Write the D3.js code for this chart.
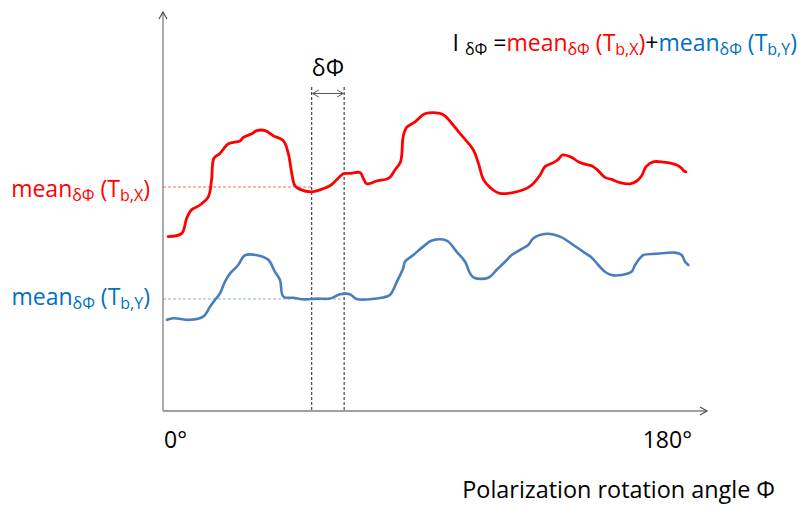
<!DOCTYPE html>
<html>
<head>
<meta charset="utf-8">
<script src="https://cdn.jsdelivr.net/npm/d3@7"></script>
<style>
  html, body { margin: 0; padding: 0; background: #fff; }
  svg { display: block; font-family: "Open Sans", Calibri, Lato, sans-serif; }
</style>
</head>
<body>
<svg id="chart" width="801" height="506"></svg>
<script>
// Polarization rotation angle (degrees) and mean transmitted intensity (arb. units)
const redAngle = [0.4, 5.1, 6.8, 8.5, 11.4, 14.3, 15.4, 16.2, 18.3, 21.2, 25.2, 26.4, 29.3, 31.0, 33.9, 36.7, 40.2, 41.9, 43.1, 44.2, 46.0, 50.0, 54.0, 56.3, 58.6, 60.9, 63.2, 66.7, 67.8, 69.0, 72.4, 76.8, 78.8, 80.7, 81.6, 82.8, 85.7, 89.1, 94.3, 96.0, 101.2, 105.8, 107.6, 109.3, 111.6, 115.0, 123.1, 126.0, 128.9, 130.6, 133.5, 135.2, 136.6, 139.8, 142.1, 144.4, 146.7, 148.5, 151.3, 153.6, 156.5, 160.0, 162.3, 164.0, 165.5, 168.0, 171.5, 176.1, 177.8, 178.6, 179.3];
const redValue = [43.6, 44.4, 48.2, 50.3, 51.5, 53.6, 57.8, 63.2, 64.4, 66.8, 67.5, 68.4, 69.3, 70.1, 70.1, 68.8, 67.6, 64.4, 59.4, 56.3, 55.4, 54.8, 55.6, 56.3, 57.8, 59.3, 59.4, 59.6, 58.2, 56.8, 57.5, 58.3, 60.3, 62.3, 68.6, 70.9, 72.3, 74.3, 74.4, 73.8, 69.4, 65.3, 61.9, 57.9, 55.9, 54.4, 55.3, 56.5, 59.0, 61.1, 62.1, 62.9, 64.0, 63.4, 62.3, 61.7, 61.3, 60.4, 58.4, 57.9, 57.1, 56.8, 57.5, 58.8, 61.1, 62.3, 62.2, 61.5, 60.7, 60.0, 59.8];

const blueAngle = [0, 2.2, 7.9, 12.5, 14.9, 16.6, 18.3, 20.0, 21.8, 24.6, 26.9, 31.5, 35.0, 37.3, 39.0, 40.2, 43.6, 47.7, 51.7, 56.3, 59.8, 63.2, 65.5, 74.7, 77.0, 79.4, 81.6, 82.2, 85.1, 88.5, 91.5, 96.6, 100.1, 103.0, 104.7, 106.1, 111.0, 113.9, 116.8, 119.1, 122.0, 124.8, 126.6, 131.2, 135.8, 140.4, 143.8, 146.7, 149.0, 151.3, 153.6, 157.1, 160.5, 161.7, 163.4, 164.6, 169.2, 175.5, 177.8, 179.0, 180.1];
const blueValue = [22.8, 23.2, 22.8, 23.6, 26.1, 27.8, 29.4, 32.3, 34.4, 36.5, 38.9, 38.9, 37.8, 34.8, 32.8, 28.6, 28.3, 27.9, 28.1, 28.1, 29.2, 29.2, 28.0, 28.4, 29.0, 32.3, 35.7, 37.3, 39.0, 41.1, 42.6, 42.6, 39.8, 37.3, 34.4, 33.3, 33.3, 35.3, 37.3, 39.0, 40.3, 41.5, 43.2, 44.3, 43.6, 41.5, 39.8, 38.4, 36.5, 34.8, 34.0, 34.0, 34.8, 36.5, 38.2, 39.0, 39.3, 39.6, 39.0, 37.3, 36.5];

// Averaging window δΦ and the mean levels marked at the left
const windowAngles = [50.0, 61.2];
const redMean = 56.0;
const blueMean = 28.0;
const redMeanEnd = 50.0;
const blueMeanEnd = 61.2;

const axisTickLabels = ["0°", "180°"];

const RED = "#ff0000";
const BLUE_LINE = "#4a7ebb";
const BLUE_TEXT = "#0070c0";
const AXIS = "#7f7f7f";

const svg = d3.select("#chart");
const x = d3.scaleLinear().domain([0, 180]).range([167, 688]);
const y = d3.scaleLinear().domain([0, 100]).range([411, 11]);

const x0 = 163, yAxis0 = y(0), yTop = 12, xRight = 707;

// axes with open arrowheads
const axes = svg.append("g").attr("stroke", AXIS).attr("stroke-width", 1.3).attr("fill", "none");
axes.append("line").attr("x1", x0).attr("y1", yAxis0).attr("x2", x0).attr("y2", yTop);
axes.append("path").attr("d", `M${x0 - 4},${yTop + 7} L${x0},${yTop} L${x0 + 4},${yTop + 7}`).attr("stroke", "#555");
axes.append("line").attr("x1", x0).attr("y1", yAxis0).attr("x2", xRight).attr("y2", yAxis0);
axes.append("path").attr("d", `M${xRight - 7},${yAxis0 - 4} L${xRight},${yAxis0} L${xRight - 7},${yAxis0 + 4}`).attr("stroke", "#555");

// mean level guides
svg.append("line")
  .attr("x1", x0).attr("x2", x(redMeanEnd))
  .attr("y1", y(redMean)).attr("y2", y(redMean))
  .attr("stroke", RED).attr("stroke-opacity", 0.6).attr("stroke-width", 1)
  .attr("stroke-dasharray", "3,2");
svg.append("line")
  .attr("x1", x0).attr("x2", x(blueMeanEnd))
  .attr("y1", y(blueMean)).attr("y2", y(blueMean))
  .attr("stroke", BLUE_LINE).attr("stroke-opacity", 0.6).attr("stroke-width", 1)
  .attr("stroke-dasharray", "3,2");

// window boundaries
svg.selectAll("line.win").data(windowAngles).join("line")
  .attr("class", "win")
  .attr("x1", d => x(d)).attr("x2", d => x(d))
  .attr("y1", 87).attr("y2", yAxis0)
  .attr("stroke", "#222").attr("stroke-width", 1)
  .attr("stroke-dasharray", "3,2");

// double-headed arrow spanning the window
const ay = 93.5, ax1 = x(windowAngles[0]) + 1, ax2 = x(windowAngles[1]) - 1;
const arr = svg.append("g").attr("stroke", "#555").attr("stroke-width", 1).attr("fill", "none");
arr.append("line").attr("x1", ax1).attr("x2", ax2).attr("y1", ay).attr("y2", ay);
arr.append("path").attr("d", `M${ax1 + 6},${ay - 3.5} L${ax1},${ay} L${ax1 + 6},${ay + 3.5}`);
arr.append("path").attr("d", `M${ax2 - 6},${ay - 3.5} L${ax2},${ay} L${ax2 - 6},${ay + 3.5}`);

svg.append("text")
  .attr("x", (x(windowAngles[0]) + x(windowAngles[1])) / 2).attr("y", 76)
  .attr("text-anchor", "middle").attr("font-size", 23).attr("fill", "#000")
  .text("δΦ");

// curves
const line = d3.line()
  .x(d => x(d[0])).y(d => y(d[1]))
  .curve(d3.curveCatmullRom.alpha(0.5));

svg.append("path")
  .datum(d3.zip(blueAngle, blueValue))
  .attr("d", line)
  .attr("fill", "none").attr("stroke", BLUE_LINE).attr("stroke-width", 2.6)
  .attr("stroke-linejoin", "round").attr("stroke-linecap", "round");

svg.append("path")
  .datum(d3.zip(redAngle, redValue))
  .attr("d", line)
  .attr("fill", "none").attr("stroke", RED).attr("stroke-width", 2.8)
  .attr("stroke-linejoin", "round").attr("stroke-linecap", "round");

// axis labels
svg.append("text").attr("x", x(0) - 3).attr("y", 448)
  .attr("font-size", 23).attr("fill", "#000").text(axisTickLabels[0]);
svg.append("text").attr("x", x(180) + 4).attr("y", 448)
  .attr("text-anchor", "end").attr("font-size", 23).attr("fill", "#000").text(axisTickLabels[1]);

svg.append("text").attr("x", 775).attr("y", 498)
  .attr("text-anchor", "end").attr("font-size", 23.4).attr("fill", "#000")
  .text("Polarization rotation angle Φ");

// "mean_δΦ (T_b,c)" label builder
function meanLabel(sel, channel, color, subSize) {
  sel.append("tspan").attr("fill", color).text("mean");
  sel.append("tspan").attr("fill", color).attr("font-size", subSize).attr("dy", 4).text("δΦ");
  sel.append("tspan").attr("fill", color).attr("dy", -4).text(" (T");
  sel.append("tspan").attr("fill", color).attr("font-size", subSize).attr("dy", 4).text("b," + channel);
  sel.append("tspan").attr("fill", color).attr("dy", -4).text(")");
}

const lblRed = svg.append("text").attr("x", 150).attr("y", 197)
  .attr("text-anchor", "end").attr("font-size", 23);
meanLabel(lblRed, "X", RED, 16);

const lblBlue = svg.append("text").attr("x", 150).attr("y", 305)
  .attr("text-anchor", "end").attr("font-size", 23);
meanLabel(lblBlue, "Y", BLUE_TEXT, 16);

// formula at top right
const formula = svg.append("text").attr("x", 797).attr("y", 51)
  .attr("text-anchor", "end").attr("font-size", 23);
formula.append("tspan").attr("fill", "#000").text("I ");
formula.append("tspan").attr("fill", "#000").attr("font-size", 16).attr("dy", 4).text("δΦ");
formula.append("tspan").attr("fill", "#000").attr("dy", -4).text(" =");
meanLabel(formula, "X", RED, 16);
formula.append("tspan").attr("fill", "#000").text("+");
meanLabel(formula, "Y", BLUE_TEXT, 16);
</script>
</body>
</html>
